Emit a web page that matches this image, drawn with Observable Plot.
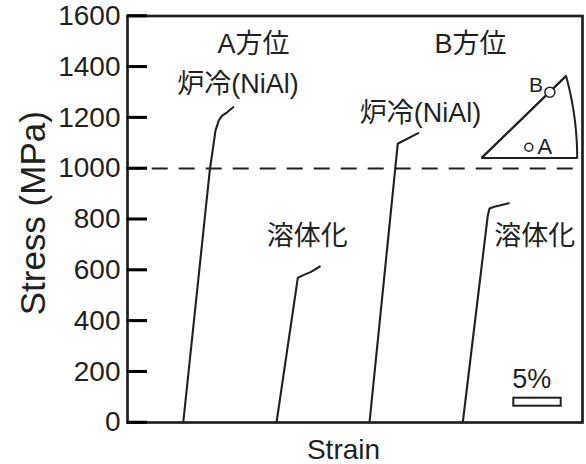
<!DOCTYPE html>
<html><head><meta charset="utf-8">
<script src="https://cdn.jsdelivr.net/npm/d3@7"></script>
<script src="https://cdn.jsdelivr.net/npm/@observablehq/plot@0.6"></script>
<style>body{margin:0;background:#fff} #chart svg{font-family:'Liberation Sans',Arial,'Noto Sans CJK JP',sans-serif;background:#fff}</style>
</head><body><div id="chart"></div>
<script>
// ---- data (strain in %, stress in MPa) ----
const curveIds = ["A_furnace", "A_solution", "B_furnace", "B_solution"];
const strainA_FC = [5.88, 8.68, 9.28, 9.63, 9.99, 10.52, 11.15];
const stressA_FC = [0, 992, 1149, 1189, 1208, 1221, 1241];
const strainA_ST = [15.72, 17.97, 18.49, 19.31, 20.29];
const stressA_ST = [0, 570, 579, 592, 614];
const strainB_FC = [25.53, 28.51, 28.80, 30.67];
const stressB_FC = [0, 1097, 1103, 1139];
const strainB_ST = [35.37, 38.01, 38.19, 38.61, 40.22];
const stressB_ST = [0, 815, 842, 848, 863];
const yTicks = [0, 200, 400, 600, 800, 1000, 1200, 1400, 1600];
const refStress = 1000;
const labelTexts = ["A方位", "B方位", "炉冷(NiAl)", "炉冷(NiAl)", "溶体化", "溶体化"];
const labelStrain = [13.29, 36.19, 11.66, 30.91, 18.96, 42.97];
const labelStress = [1456, 1456, 1295, 1181, 700, 700];
const scaleBarStrain = 5; // %
// stereographic triangle poles [001], [101], [111] and two orientations A, B
const poleU = [0, 0.4142, 0.3660];
const poleV = [0, 0, 0.3660];
const orientNames = ["A", "B"];
const orientU = [0.205, 0.296];
const orientV = [0.048, 0.294];

// ---- build ----
const allStrain = [strainA_FC, strainA_ST, strainB_FC, strainB_ST];
const allStress = [stressA_FC, stressA_ST, stressB_FC, stressB_ST];
const curves = curveIds.flatMap((id, i) => allStrain[i].map((x, j) => ({id, x, y: allStress[i][j]})));
const labels = labelTexts.map((t, i) => ({t, x: labelStrain[i], y: labelStress[i]}));

const W = 586, H = 464, mL = 127, mR = 4, mT = 15.5, mB = 42;
const xDomain = [0, 48];
const pxPerX = (W - mL - mR) / (xDomain[1] - xDomain[0]);
const pxPerY = (H - mT - mB) / 1600;
// inset placement (data units)
const ix0 = (481 - mL) / pxPerX, iy0 = (H - mB - 157.5) / pxPerY;
const isx = 231 / pxPerX, isy = 224 / pxPerY;
const toX = u => ix0 + u * isx, toY = v => iy0 + v * isy;
const arcEnd = Math.atan2(poleV[2], 1 + poleU[2]);
const arc = d3.range(0, 21).map(k => {
  const t = arcEnd * k / 20;
  return {u: -1 + Math.SQRT2 * Math.cos(t), v: Math.SQRT2 * Math.sin(t)};
});
const tri = [{u: poleU[2], v: poleV[2]}, {u: poleU[0], v: poleV[0]}, {u: poleU[1], v: poleV[1]}, ...arc];
const orients = orientNames.map((n, i) => ({n, u: orientU[i], v: orientV[i]}));
const oA = orients.filter(d => d.n === "A"), oB = orients.filter(d => d.n === "B");
const tickRows = yTicks.map(v => ({v}));

const ink = "#231f20";
const ff = "'Liberation Sans', Arial, 'Noto Sans CJK JP', sans-serif";
const barX1 = (513.3 - mL) / pxPerX;
const tickLen = 20 / pxPerX;
const tickHalf = 1.25 / pxPerY;

const chart = Plot.plot({
  width: W, height: H,
  marginLeft: mL, marginRight: mR, marginTop: mT, marginBottom: mB,
  x: {domain: xDomain, axis: null},
  y: {domain: [0, 1600], axis: null},
  marks: [
    Plot.ruleY([refStress], {stroke: ink, strokeWidth: 2, strokeDasharray: "16,11", strokeDashoffset: 2.3}),
    Plot.axisY(yTicks, {tickSize: 0, tickPadding: 7, fontSize: 28, fontFamily: ff, fill: ink, label: null, tickFormat: d3.format("d")}),
    Plot.line(curves, {x: "x", y: "y", z: "id", stroke: ink, strokeWidth: 2.1, strokeLinejoin: "round"}),
    Plot.text(labels, {x: "x", y: "y", text: "t", fontSize: 27, fontFamily: ff, fill: ink, lineAnchor: "bottom", textAnchor: "middle"}),
    // scale bar
    Plot.text(["5%"], {x: barX1 + scaleBarStrain / 2 - 0.6, y: (H - mB - 387) / pxPerY, fontSize: 27, fontFamily: ff, fill: ink, lineAnchor: "bottom"}),
    Plot.rect([0], {x1: barX1, x2: barX1 + scaleBarStrain, y1: (H - mB - 405.7) / pxPerY, y2: (H - mB - 397.7) / pxPerY, fill: "#fff", stroke: ink, strokeWidth: 2}),
    // inset stereographic triangle
    Plot.line(tri, {x: d => toX(d.u), y: d => toY(d.v), stroke: ink, strokeWidth: 2, strokeLinejoin: "miter"}),
    Plot.link([0], {x1: toX(poleU[2]), y1: toY(poleV[2]), x2: toX(poleU[0]), y2: toY(poleV[0]), stroke: ink, strokeWidth: 2}),
    Plot.dot(oB, {x: d => toX(d.u), y: d => toY(d.v), r: 5, fill: "#fff", stroke: ink, strokeWidth: 1.5}),
    Plot.dot(oA, {x: d => toX(d.u), y: d => toY(d.v), r: 4, fill: "#fff", stroke: ink, strokeWidth: 1.5}),
    Plot.text(oB, {x: d => toX(d.u), y: d => toY(d.v), text: "n", fontSize: 21, fontFamily: ff, fill: ink, lineAnchor: "bottom", dx: -14, dy: 0}),
    Plot.text(oA, {x: d => toX(d.u), y: d => toY(d.v), text: "n", fontSize: 22, fontFamily: ff, fill: ink, lineAnchor: "bottom", dx: 16, dy: 6.5}),
    Plot.text(["Stress (MPa)"], {frameAnchor: "left", dx: -83, dy: -6, rotate: -90, fontSize: 35, fontFamily: ff, fill: ink, lineAnchor: "bottom", textAnchor: "middle"}),
    Plot.text(["Strain"], {frameAnchor: "bottom", dx: -11.5, dy: 36, fontSize: 28, fontFamily: ff, fill: ink, lineAnchor: "bottom", textAnchor: "middle"}),
    Plot.frame({stroke: ink, strokeWidth: 2.7}),
    // inward y ticks (two ways, overlapping)
    Plot.rect(tickRows, {x1: () => xDomain[0], x2: () => xDomain[0] + tickLen, y1: d => d.v - tickHalf, y2: d => d.v + tickHalf, fill: "black"}),
    Plot.ruleY(yTicks, {x1: xDomain[0], x2: xDomain[0] + tickLen, stroke: "black", strokeWidth: 2.5})
  ]
});
document.getElementById("chart").append(chart);
</script>
</body></html>
